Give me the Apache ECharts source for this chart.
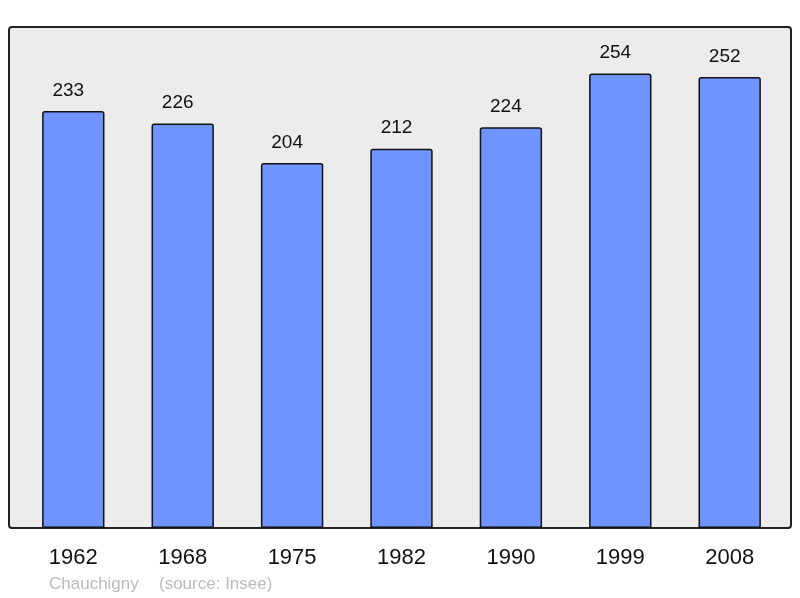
<!DOCTYPE html>
<html style="height: 100%">
<head>
  <meta charset="utf-8">
</head>
<body style="height: 100%; margin: 0">
<div id="container" style="width: 800px; height: 598px"></div>
<script type="text/javascript" src="https://cdn.jsdelivr.net/npm/echarts@6/dist/echarts.min.js"></script>
<script type="text/javascript">
var years = ['1962', '1968', '1975', '1982', '1990', '1999', '2008'];
var population = [233, 226, 204, 212, 224, 254, 252];

var dom = document.getElementById("container");
var myChart = echarts.init(dom);

var option = {
    backgroundColor: '#ffffff',
    animation: false,
    textStyle: { fontFamily: 'Liberation Sans, Arial, sans-serif' },
    graphic: [{
        type: 'rect',
        z: 0,
        shape: { x: 9, y: 27, width: 782, height: 501, r: 3 },
        style: { fill: '#ececec', stroke: '#222222', lineWidth: 2 }
    }, {
        type: 'text',
        left: 49,
        top: 576,
        style: {
            text: 'Chauchigny',
            fill: '#bbbbbb',
            fontSize: 17,
            fontFamily: 'Liberation Sans, Arial, sans-serif'
        }
    }, {
        type: 'text',
        left: 159,
        top: 576,
        style: {
            text: '(source: Insee)',
            fill: '#bbbbbb',
            fontSize: 17,
            fontFamily: 'Liberation Sans, Arial, sans-serif'
        }
    }],
    grid: {
        left: 18.6,
        width: 765.8,
        top: 27,
        bottom: 70
    },
    xAxis: {
        type: 'category',
        data: years,
        axisLine: { show: false },
        axisTick: { show: false },
        axisLabel: { fontSize: 22, color: '#111111', margin: 19 }
    },
    yAxis: {
        type: 'value',
        min: 0,
        max: 280,
        show: false,
        splitLine: { show: false }
    },
    series: [{
        type: 'bar',
        data: population,
        barCategoryGap: '43%',
        itemStyle: {
            color: '#7094ff',
            borderColor: '#111111',
            borderWidth: 1.5,
            borderRadius: [2, 2, 0, 0]
        },
        label: {
            show: true,
            position: 'top',
            distance: 11,
            offset: [-5, 0],
            fontSize: 19,
            color: '#111111'
        }
    }]
};
myChart.setOption(option, true);
</script>
</body>
</html>
